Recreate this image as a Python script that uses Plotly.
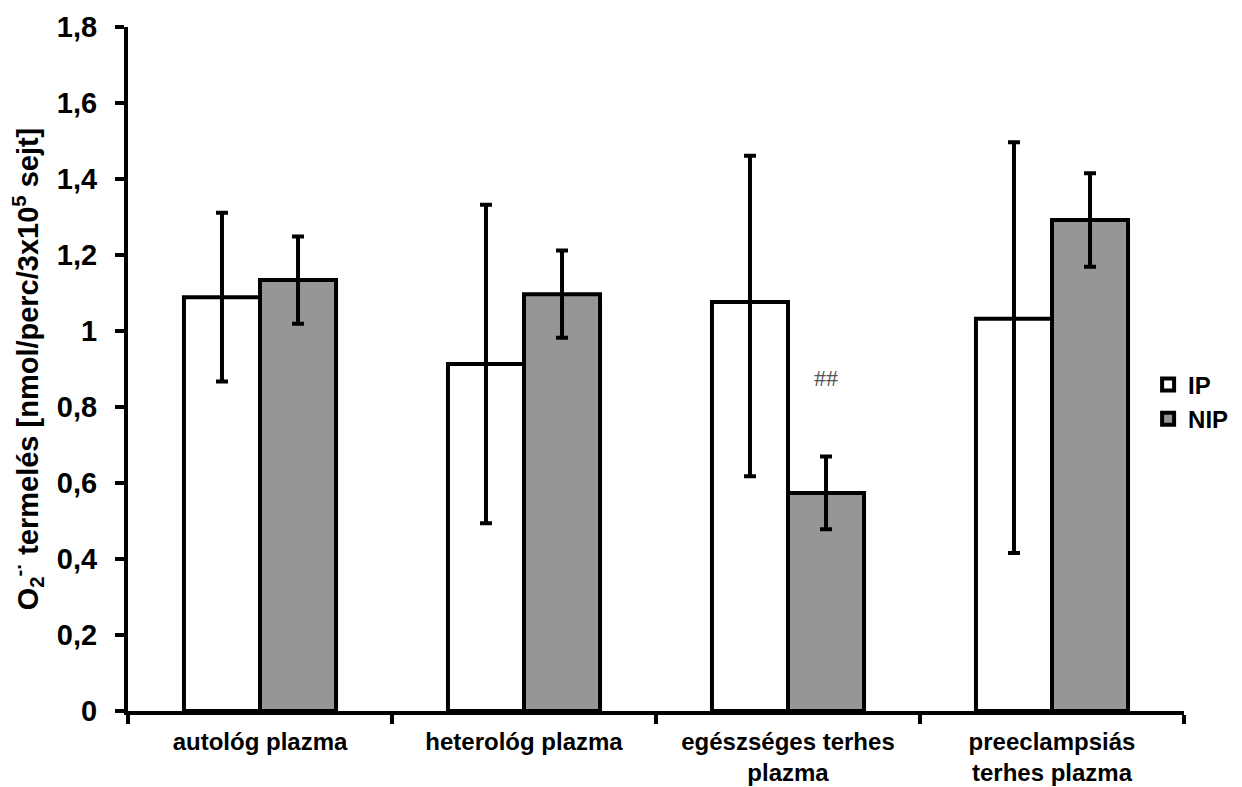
import plotly.graph_objects as go

categories = ["autológ plazma", "heterológ plazma", "egészséges terhes<br>plazma", "preeclampsiás<br>terhes plazma"]
ip_values = [1.089, 0.913, 1.076, 1.032]
ip_err_plus = [0.222, 0.419, 0.385, 0.465]
ip_err_minus = [0.222, 0.419, 0.458, 0.616]
nip_values = [1.134, 1.097, 0.574, 1.292]
nip_err = [0.115, 0.115, 0.096, 0.123]
y_tickvals = [0, 0.2, 0.4, 0.6, 0.8, 1.0, 1.2, 1.4, 1.6, 1.8]
y_ticktext = ["0", "0,2", "0,4", "0,6", "0,8", "1", "1,2", "1,4", "1,6", "1,8"]
annot_text = "##"
annot_y = 0.876

FONT = "Liberation Sans"

fig = go.Figure()
fig.add_trace(go.Bar(
    name="IP", x=categories, y=ip_values,
    marker=dict(color="white", line=dict(color="black", width=4)),
    error_y=dict(type="data", symmetric=False, array=ip_err_plus, arrayminus=ip_err_minus,
                 color="black", thickness=4, width=6),
))
fig.add_trace(go.Bar(
    name="NIP", x=categories, y=nip_values,
    marker=dict(color="#969696", line=dict(color="black", width=4)),
    error_y=dict(type="data", array=nip_err, color="black", thickness=4, width=6),
))

fig.add_annotation(x=categories[2], y=annot_y, xref="x", yref="y", text=annot_text,
                   showarrow=False, xshift=38,
                   font=dict(family="Liberation Serif", size=24, color="#555555"))

fig.update_layout(
    width=1234, height=779,
    margin=dict(l=120, r=58, t=19, b=76, autoexpand=False),
    paper_bgcolor="white", plot_bgcolor="white",
    barmode="group", bargap=0.424, bargroupgap=0,
    separators=", ",
    font=dict(family=FONT, color="black"),
    showlegend=True,
    legend=dict(x=0.966, y=0.452, xanchor="left", yanchor="middle",
                font=dict(family=FONT, size=24, color="black", weight="bold"),
                itemwidth=30, tracegroupgap=0, bgcolor="rgba(0,0,0,0)"),
    xaxis=dict(
        showline=True, linecolor="black", linewidth=4,
        ticks="outside", tickson="boundaries", ticklen=9, tickwidth=4, tickcolor="black",
        ticklabelstandoff=6,
        tickfont=dict(family=FONT, size=24, color="black", weight="bold"),
        showgrid=False, zeroline=False,
    ),
    yaxis=dict(
        range=[0, 1.8], tickvals=y_tickvals, ticktext=y_ticktext,
        showline=True, linecolor="black", linewidth=4,
        ticks="outside", ticklen=9, tickwidth=4, tickcolor="black",
        ticklabelstandoff=12,
        tickfont=dict(family=FONT, size=29, color="black", weight="bold"),
        showgrid=False, zeroline=False,
        title=dict(text="O<sub>2</sub><sup>-·</sup> termelés [nmol/perc/3x10<sup>5</sup> sejt]",
                   font=dict(family=FONT, size=29, color="black", weight="bold"), standoff=16),
    ),
)

fig.write_html("out.html")
